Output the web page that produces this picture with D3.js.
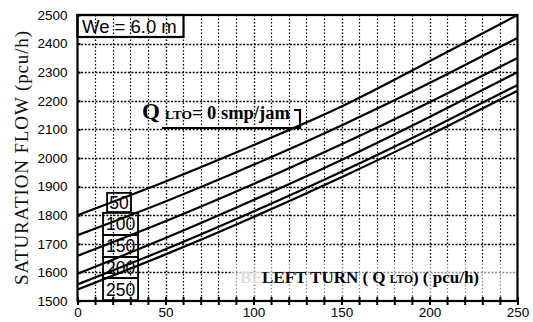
<!DOCTYPE html>
<html>
<head>
<meta charset="utf-8">
<script src="https://cdn.jsdelivr.net/npm/d3@7"></script>
<style>
  html, body { margin: 0; padding: 0; background: #fff; }
  svg { display: block; }
</style>
</head>
<body>
<svg id="chart" width="533" height="322"></svg>
<script>
// Left-turn flow on the x axis (pcu/h)
const xSamples = [0, 50, 100, 150, 200, 250];
// Opposing left-turn flow for each curve
const qLto = [0, 50, 100, 150, 200, 250];
// Saturation flow (pcu/h) of each curve at the x samples
const flowQ0   = [1800, 1918, 2045, 2180, 2338, 2500];
const flowQ50  = [1730, 1848, 1976, 2114, 2262, 2420];
const flowQ100 = [1658, 1779, 1909, 2048, 2195, 2350];
const flowQ150 = [1595, 1720, 1853, 1993, 2143, 2300];
const flowQ200 = [1558, 1681, 1813, 1952, 2100, 2255];
const flowQ250 = [1540, 1663, 1794, 1933, 2080, 2235];
const curves = [flowQ0, flowQ50, flowQ100, flowQ150, flowQ200, flowQ250];
// Axis ticks
const yTicks = [1500, 1600, 1700, 1800, 1900, 2000, 2100, 2200, 2300, 2400, 2500];
const xTicks = [0, 10, 20, 30, 40, 50, 60, 70, 80, 90, 100, 110, 120, 130, 140, 150,
                160, 170, 180, 190, 200, 210, 220, 230, 240, 250];
const xLabelTicks = [0, 50, 100, 150, 200, 250];
// Curve tags stacked near the left edge
const tagLabels = ["50", "100", "150", "200", "250"];

(function draw() {
  const svg = d3.select("#chart");
  const pLeft = 77.5, pRight = 517.5, pTop = 15, pBottom = 301;
  const x = d3.scaleLinear().domain([0, 250]).range([pLeft, pRight]);
  const y = d3.scaleLinear().domain([1500, 2500]).range([pBottom, pTop]);

  // Dotted grid
  const grid = svg.append("g").attr("id", "grid");
  xTicks.filter(d => d > 0 && d < 250).forEach(d => {
    grid.append("line")
      .attr("x1", Math.round(x(d)) + 0.5).attr("x2", Math.round(x(d)) + 0.5)
      .attr("y1", pTop).attr("y2", pBottom)
      .attr("stroke", "#000")
      .attr("stroke-width", d % 50 === 0 ? 1.5 : 1.2)
      .attr("stroke-dasharray", "1.5,2");
  });
  yTicks.filter(d => d > 1500 && d < 2500).forEach(d => {
    grid.append("line")
      .attr("x1", pLeft).attr("x2", pRight)
      .attr("y1", Math.round(y(d)) + 0.5).attr("y2", Math.round(y(d)) + 0.5)
      .attr("stroke", "#000")
      .attr("stroke-width", 1.4)
      .attr("stroke-dasharray", "2,1.6");
  });

  // Faded band behind the x-axis title
  svg.append("rect")
    .attr("x", 232).attr("y", 262).attr("width", 284).attr("height", 34)
    .attr("fill", "#fff").attr("opacity", 0.55);

  // Curves
  const line = d3.line()
    .x((d, i) => x(xSamples[i]))
    .y(d => y(d))
    .curve(d3.curveNatural);
  svg.append("g").selectAll("path").data(curves).join("path")
    .attr("d", d => line(d))
    .attr("fill", "none")
    .attr("stroke", "#000")
    .attr("stroke-width", 2.2);

  // Axes
  const yAxis = svg.append("g").attr("transform", `translate(${pLeft},0)`)
    .call(d3.axisLeft(y).tickValues(yTicks).tickSize(9).tickPadding(1)
      .tickFormat(d3.format("d")));
  yAxis.select(".domain").remove();
  yAxis.selectAll(".tick line").attr("stroke", "#000").attr("stroke-width", 2).attr("x2", 3);
  yAxis.selectAll(".tick text")
    .attr("font-family", "'Liberation Sans', Arial, sans-serif")
    .attr("font-size", 13.5).attr("fill", "#000");

  const xAxis = svg.append("g").attr("transform", `translate(0,${pBottom})`)
    .call(d3.axisBottom(x).tickValues(xTicks).tickSize(4).tickPadding(2)
      .tickFormat(d => xLabelTicks.includes(d) ? d : ""));
  xAxis.select(".domain").remove();
  xAxis.selectAll(".tick line").attr("stroke", "#000").attr("stroke-width", 2).attr("y1", -4);
  xAxis.selectAll(".tick text")
    .attr("font-family", "'Liberation Sans', Arial, sans-serif")
    .attr("font-size", 13.5).attr("fill", "#000");

  // Plot frame
  svg.append("rect")
    .attr("x", pLeft).attr("y", pTop)
    .attr("width", pRight - pLeft).attr("height", pBottom - pTop)
    .attr("fill", "none").attr("stroke", "#000").attr("stroke-width", 2.2);

  // Y-axis title
  svg.append("text")
    .attr("transform", "translate(28,158) rotate(-90)")
    .attr("text-anchor", "middle")
    .attr("font-family", "'Liberation Serif', 'Times New Roman', serif")
    .attr("font-size", 19)
    .attr("textLength", 254)
    .attr("fill", "#111")
    .text("SATURATION FLOW (pcu/h)");

  // Width tag
  svg.append("rect")
    .attr("x", pLeft).attr("y", pTop).attr("width", 106).attr("height", 22)
    .attr("fill", "none").attr("stroke", "#000").attr("stroke-width", 2.2);
  svg.append("text")
    .attr("x", 82).attr("y", 33)
    .attr("font-family", "'Liberation Sans', Arial, sans-serif")
    .attr("font-size", 18.5).attr("fill", "#000")
    .text("We = 6.0 m");

  // Label for the Q LTO = 0 curve with its bracket
  const qLabel = svg.append("text")
    .attr("x", 142).attr("y", 119)
    .attr("font-family", "'Liberation Serif', 'Times New Roman', serif")
    .attr("font-weight", "bold").attr("fill", "#000");
  qLabel.append("tspan").attr("font-size", 23).text("Q");
  qLabel.append("tspan").attr("font-size", 13.5).attr("dx", 5).text("LTO");
  qLabel.append("tspan").attr("font-size", 18.5).text("= " + qLto[0] + " smp/jam");
  svg.append("path")
    .attr("d", "M162,128 H300 V110 H294")
    .attr("fill", "none").attr("stroke", "#000").attr("stroke-width", 2.2);

  // Stacked curve tags
  const tagY = [1878, 1808, 1731, 1654, 1580, 1503];
  const tags = svg.append("g");
  tagLabels.forEach((t, i) => {
    const x0 = i === 0 ? x(16.8) : x(14.5);
    const x1 = i === 0 ? x(30.4) : x(34.4);
    const y0 = y(tagY[i]);
    const y1 = i === 0 ? y(1811) : y(tagY[i + 1]);
    tags.append("rect")
      .attr("x", x0).attr("y", y0).attr("width", x1 - x0).attr("height", y1 - y0)
      .attr("fill", "none").attr("stroke", "#000").attr("stroke-width", 1.8);
    tags.append("text")
      .attr("x", (x0 + x1) / 2).attr("y", (y0 + y1) / 2 + 6.5)
      .attr("text-anchor", "middle")
      .attr("font-family", "'Liberation Sans', Arial, sans-serif")
      .attr("font-size", 17.5).attr("fill", "#000")
      .text(t);
  });

  // X-axis title
  svg.append("text")
    .attr("x", 240).attr("y", 283)
    .attr("font-family", "'Liberation Serif', 'Times New Roman', serif")
    .attr("font-weight", "bold").attr("font-size", 17).attr("fill", "#ddd")
    .text("BE");
  const xTitle = svg.append("text")
    .attr("x", 262).attr("y", 283)
    .attr("font-family", "'Liberation Serif', 'Times New Roman', serif")
    .attr("font-weight", "bold").attr("font-size", 17).attr("fill", "#000");
  xTitle.append("tspan").text("LEFT TURN ( Q ");
  xTitle.append("tspan").attr("font-size", 11.5).text("LTO");
  xTitle.append("tspan").text(") ( pcu/h)");
})();
</script>
</body>
</html>
